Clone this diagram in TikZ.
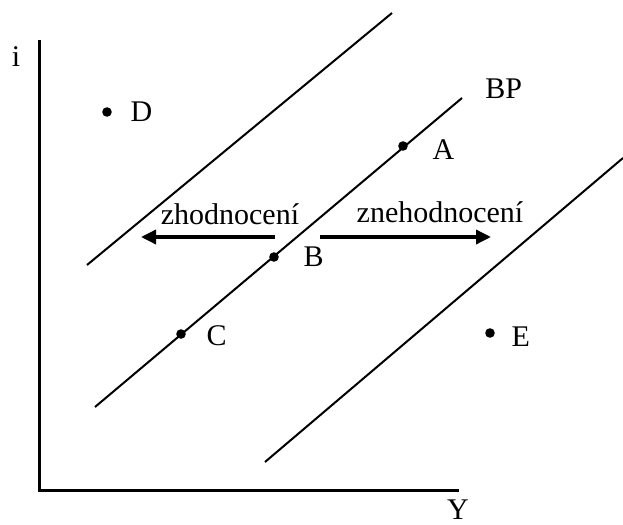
\documentclass[tikz,border=0pt]{standalone}
\usepackage{fontspec}
\setmainfont{Liberation Serif}
\usetikzlibrary{arrows.meta, positioning}

\begin{document}
\begin{tikzpicture}[x=0.5pt, y=-0.5pt, font=\fontsize{15}{18}\selectfont,
    dot/.style={circle, fill=black, inner sep=0pt, minimum size=4.8pt},
    lbl/.style={inner sep=0pt},
    bpline/.style={line width=1pt},
    moveArrow/.style={line width=1.7pt, -{Triangle[length=7.5pt, width=7pt]}}]
    \useasboundingbox (0,0) rectangle (623,525);
    % axes
    \coordinate (axisTop) at (39,40);
    \coordinate (origin) at (39,490);
    \coordinate (axisEnd) at (459,490);
    \draw[line width=1.5pt] (axisTop) -- (origin) -- (axisEnd);
    \node[lbl] (iLabel) at (16,57) {i};
    \node[lbl] (yLabel) at (458,510) {Y};
    % BP lines
    \coordinate (upLow) at (87,265);
    \coordinate (upHigh) at (392,13);
    \coordinate (bpLow) at (95,407);
    \coordinate (bpHigh) at (462,98);
    \coordinate (dnLow) at (265,462);
    \coordinate (dnHigh) at (623,158);
    \draw[bpline] (upLow) -- (upHigh);
    \draw[bpline] (bpLow) -- (bpHigh);
    \draw[bpline] (dnLow) -- (dnHigh);
    \node[lbl, anchor=west] (bpLabel) at (485,89) {BP};
    % points
    \node[dot] (dotA) at (403,146) {};
    \node[dot] (dotB) at (274,257) {};
    \node[dot] (dotC) at (181,334) {};
    \node[dot] (dotD) at (107,112) {};
    \node[dot] (dotE) at (490,333) {};
    \node[lbl, right=12pt of dotA, yshift=-2pt] (labA) {A};
    \node[lbl, right=12pt of dotB] (labB) {B};
    \node[lbl, right=10pt of dotC, yshift=-1pt] (labC) {C};
    \node[lbl, right=9pt of dotD] (labD) {D};
    \node[lbl, right=8pt of dotE, yshift=-2pt] (labE) {E};
    % shifts
    \coordinate (leftFrom) at (275,237);
    \coordinate (leftTo) at (141,237);
    \coordinate (rightFrom) at (320,237);
    \coordinate (rightTo) at (491,237);
    \draw[moveArrow] (leftFrom) -- (leftTo);
    \draw[moveArrow] (rightFrom) -- (rightTo);
    \node[lbl] (upText) at (230,214) {zhodnocení};
    \node[lbl] (downText) at (440,212) {znehodnocení};
\end{tikzpicture}
\end{document}
